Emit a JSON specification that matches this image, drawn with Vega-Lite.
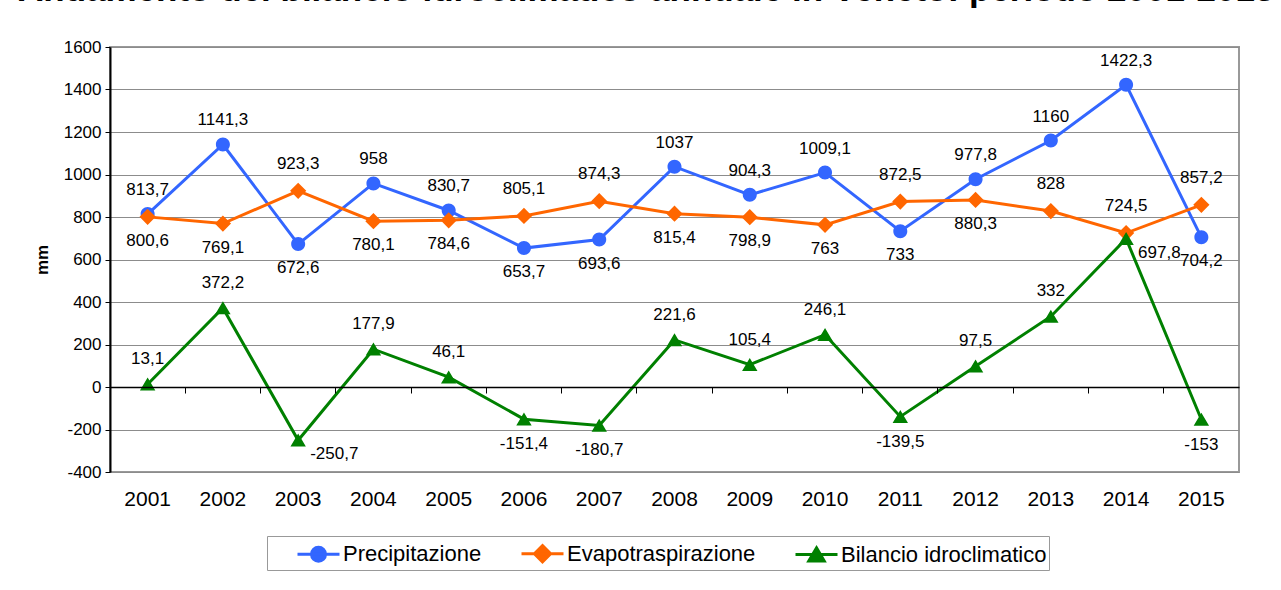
{
  "$schema": "https://vega.github.io/schema/vega-lite/v6.json",
  "autosize": {"type": "none"},
  "padding": {"left": 110, "top": 47, "right": 42, "bottom": 118},
  "width": 1129,
  "height": 425,
  "background": "white",
  "title": {
    "text": "Andamento del bilancio idroclimatico annuale in Veneto: periodo 2001-2015",
    "font": "Liberation Sans",
    "fontSize": 35,
    "fontWeight": "bold",
    "color": "black",
    "anchor": "start",
    "frame": "group",
    "baseline": "alphabetic",
    "dx": -92,
    "dy": 17,
    "offset": 19
  },
  "config": {
    "locale": {"number": {"decimal": ",", "thousands": ".", "grouping": [3], "currency": ["", " €"], "minus": "-"}},
    "font": "Liberation Sans",
    "view": {"stroke": "#999999", "strokeWidth": 2},
    "axis": {"labelFont": "Liberation Sans", "titleFont": "Liberation Sans", "labelColor": "black", "titleColor": "black"},
    "legend": {"labelFontSize": 22, "labelLimit": 400, "symbolSize": 784, "labelFont": "Liberation Sans", "labelColor": "black"}
  },
  "data": {
    "values": [
      {"anno": "2001", "Precipitazione": 813.7, "Evapotraspirazione": 800.6, "Bilancio idroclimatico": 13.1},
      {"anno": "2002", "Precipitazione": 1141.3, "Evapotraspirazione": 769.1, "Bilancio idroclimatico": 372.2},
      {"anno": "2003", "Precipitazione": 672.6, "Evapotraspirazione": 923.3, "Bilancio idroclimatico": -250.7},
      {"anno": "2004", "Precipitazione": 958, "Evapotraspirazione": 780.1, "Bilancio idroclimatico": 177.9},
      {"anno": "2005", "Precipitazione": 830.7, "Evapotraspirazione": 784.6, "Bilancio idroclimatico": 46.1},
      {"anno": "2006", "Precipitazione": 653.7, "Evapotraspirazione": 805.1, "Bilancio idroclimatico": -151.4},
      {"anno": "2007", "Precipitazione": 693.6, "Evapotraspirazione": 874.3, "Bilancio idroclimatico": -180.7},
      {"anno": "2008", "Precipitazione": 1037, "Evapotraspirazione": 815.4, "Bilancio idroclimatico": 221.6},
      {"anno": "2009", "Precipitazione": 904.3, "Evapotraspirazione": 798.9, "Bilancio idroclimatico": 105.4},
      {"anno": "2010", "Precipitazione": 1009.1, "Evapotraspirazione": 763, "Bilancio idroclimatico": 246.1},
      {"anno": "2011", "Precipitazione": 733, "Evapotraspirazione": 872.5, "Bilancio idroclimatico": -139.5},
      {"anno": "2012", "Precipitazione": 977.8, "Evapotraspirazione": 880.3, "Bilancio idroclimatico": 97.5},
      {"anno": "2013", "Precipitazione": 1160, "Evapotraspirazione": 828, "Bilancio idroclimatico": 332},
      {"anno": "2014", "Precipitazione": 1422.3, "Evapotraspirazione": 724.5, "Bilancio idroclimatico": 697.8},
      {"anno": "2015", "Precipitazione": 704.2, "Evapotraspirazione": 857.2, "Bilancio idroclimatico": -153}
    ]
  },
  "resolve": {"axis": {"x": "independent"}},
  "layer": [
    {
      "transform": [{"fold": ["Precipitazione", "Evapotraspirazione", "Bilancio idroclimatico"], "as": ["serie", "valore"]}],
      "mark": {"type": "line", "strokeWidth": 3},
      "encoding": {
        "x": {"field": "anno", "type": "ordinal", "scale": {"type": "band", "paddingInner": 0, "paddingOuter": 0},
              "axis": {"title": null, "orient": "bottom", "labelAngle": 0, "labelFontSize": 21, "ticks": false, "tickSize": 0, "domain": false, "labelPadding": 16, "grid": false}},
        "y": {"field": "valore", "type": "quantitative",
              "scale": {"domain": [-400, 1600], "nice": false, "zero": false},
              "axis": {"title": "mm", "titleFontSize": 17, "titleFontWeight": "bold", "titlePadding": 12, "values": [-400, -200, 0, 200, 400, 600, 800, 1000, 1200, 1400, 1600],
                       "format": "d", "labelFontSize": 17, "labelPadding": 4, "tickSize": 5, "tickColor": "black", "domainColor": "black", "domainWidth": 2, "gridColor": "#8c8c8c", "gridWidth": 1}},
        "color": {"field": "serie", "type": "nominal",
                  "scale": {"domain": ["Precipitazione", "Evapotraspirazione", "Bilancio idroclimatico"], "range": ["#3366FF", "#FF6600", "#008000"]},
                  "legend": {"title": null, "orient": "none", "direction": "horizontal", "legendX": 157, "legendY": 489,
                             "labelOffset": 9, "columnPadding": 11, "symbolOffset": 34, "padding": 2, "strokeColor": "#999999",
                             "encode": {"symbols": {"update": {"stroke": {"scale": "color", "field": "value"}, "strokeWidth": {"value": 3}}}}}}
      }
    },
    {
      "transform": [{"fold": ["Precipitazione", "Evapotraspirazione", "Bilancio idroclimatico"], "as": ["serie", "valore"]}],
      "mark": {"type": "point", "filled": true, "opacity": 1},
      "encoding": {
        "x": {"field": "anno", "type": "ordinal",
              "axis": {"title": null, "orient": "bottom", "labels": false, "grid": false, "domain": true, "domainColor": "black", "domainWidth": 1.5, "ticks": true, "tickSize": 6, "tickColor": "black", "bandPosition": 0, "offset": -85, "zindex": 1}},
        "y": {"field": "valore", "type": "quantitative"},
        "size": {"value": 784},
        "color": {"field": "serie", "type": "nominal",
                  "legend": {"title": null, "orient": "none", "direction": "horizontal", "legendX": 157, "legendY": 489,
                             "labelOffset": 9, "columnPadding": 11, "symbolOffset": 34, "padding": 2, "strokeColor": "#999999",
                             "encode": {"symbols": {"update": {"stroke": {"scale": "color", "field": "value"}, "strokeWidth": {"value": 3}}}}}},
        "shape": {"field": "serie", "type": "nominal",
                  "scale": {"domain": ["Precipitazione", "Evapotraspirazione", "Bilancio idroclimatico"],
                            "range": ["M-1.5,0H1.5M-0.5,0A0.5,0.5,0,1,0,0.5,0A0.5,0.5,0,1,0,-0.5,0Z",
                                      "M-1.5,0H1.5M0,-0.58L0.58,0L0,0.58L-0.58,0Z",
                                      "M-1.5,0H1.5M0,-0.48L0.55,0.45L-0.55,0.45Z"]},
                  "legend": {"title": null, "orient": "none", "direction": "horizontal", "legendX": 157, "legendY": 489,
                             "labelOffset": 9, "columnPadding": 11, "symbolOffset": 34, "padding": 2, "strokeColor": "#999999",
                             "encode": {"symbols": {"update": {"stroke": {"scale": "color", "field": "value"}, "strokeWidth": {"value": 3}}}}}}
      }
    },
    {
      "transform": [{"filter": "datum.Precipitazione > datum.Evapotraspirazione"}],
      "mark": {"type": "text", "fontSize": 17, "color": "black", "dy": -24, "baseline": "middle"},
      "encoding": {"x": {"field": "anno", "type": "ordinal", "axis": null}, "y": {"field": "Precipitazione", "type": "quantitative"}, "text": {"field": "Precipitazione", "type": "quantitative", "format": ".1~f"}}
    },
    {
      "transform": [{"filter": "datum.Precipitazione <= datum.Evapotraspirazione"}],
      "mark": {"type": "text", "fontSize": 17, "color": "black", "dy": 24, "baseline": "middle"},
      "encoding": {"x": {"field": "anno", "type": "ordinal", "axis": null}, "y": {"field": "Precipitazione", "type": "quantitative"}, "text": {"field": "Precipitazione", "type": "quantitative", "format": ".1~f"}}
    },
    {
      "transform": [{"filter": "datum.Evapotraspirazione > datum.Precipitazione || datum.anno == '2013' || datum.anno == '2014'"}],
      "mark": {"type": "text", "fontSize": 17, "color": "black", "dy": -27, "baseline": "middle"},
      "encoding": {"x": {"field": "anno", "type": "ordinal", "axis": null}, "y": {"field": "Evapotraspirazione", "type": "quantitative"}, "text": {"field": "Evapotraspirazione", "type": "quantitative", "format": ".1~f"}}
    },
    {
      "transform": [{"filter": "!(datum.Evapotraspirazione > datum.Precipitazione || datum.anno == '2013' || datum.anno == '2014')"}],
      "mark": {"type": "text", "fontSize": 17, "color": "black", "dy": 24, "baseline": "middle"},
      "encoding": {"x": {"field": "anno", "type": "ordinal", "axis": null}, "y": {"field": "Evapotraspirazione", "type": "quantitative"}, "text": {"field": "Evapotraspirazione", "type": "quantitative", "format": ".1~f"}}
    },
    {
      "transform": [{"filter": "datum['Bilancio idroclimatico'] >= 0 && datum.anno != '2014'"}],
      "mark": {"type": "text", "fontSize": 17, "color": "black", "dy": -25, "baseline": "middle"},
      "encoding": {"x": {"field": "anno", "type": "ordinal", "axis": null}, "y": {"field": "Bilancio idroclimatico", "type": "quantitative"}, "text": {"field": "Bilancio idroclimatico", "type": "quantitative", "format": ".1~f"}}
    },
    {
      "transform": [{"filter": "datum['Bilancio idroclimatico'] < 0 && datum.anno != '2003'"}],
      "mark": {"type": "text", "fontSize": 17, "color": "black", "dy": 25, "baseline": "middle"},
      "encoding": {"x": {"field": "anno", "type": "ordinal", "axis": null}, "y": {"field": "Bilancio idroclimatico", "type": "quantitative"}, "text": {"field": "Bilancio idroclimatico", "type": "quantitative", "format": ".1~f"}}
    },
    {
      "transform": [{"filter": "datum.anno == '2003' || datum.anno == '2014'"}],
      "mark": {"type": "text", "fontSize": 17, "color": "black", "dy": 14, "dx": 12, "align": "left", "baseline": "middle"},
      "encoding": {"x": {"field": "anno", "type": "ordinal", "axis": null}, "y": {"field": "Bilancio idroclimatico", "type": "quantitative"}, "text": {"field": "Bilancio idroclimatico", "type": "quantitative", "format": ".1~f"}}
    }
  ]
}
